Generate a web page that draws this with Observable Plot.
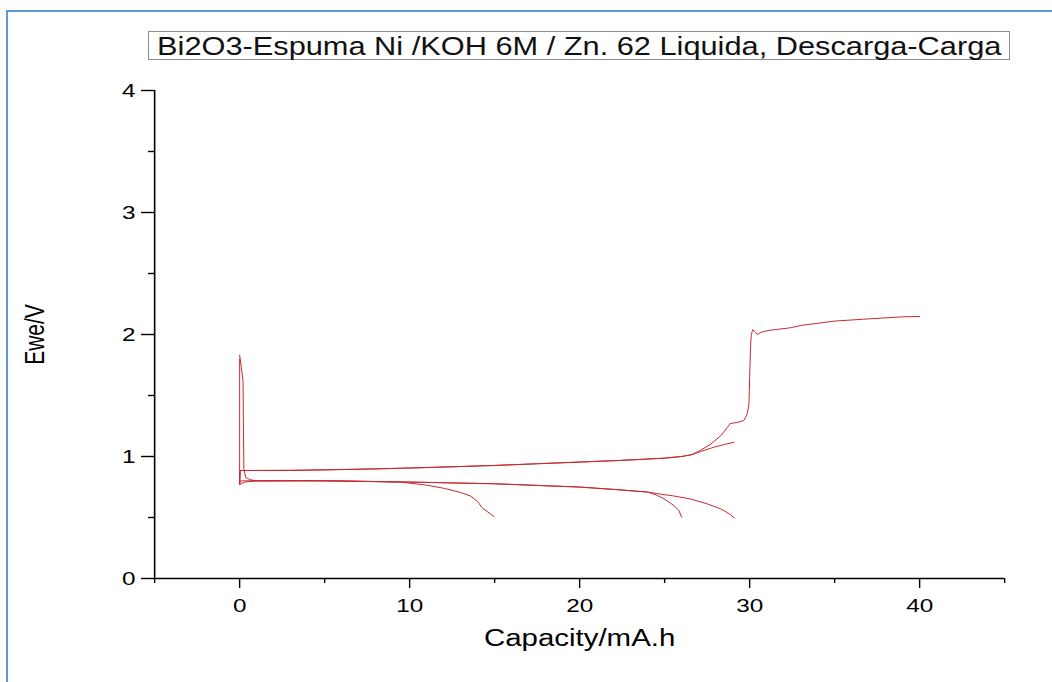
<!DOCTYPE html>
<html><head><meta charset="utf-8">
<script src="https://cdn.jsdelivr.net/npm/d3@7"></script>
<script src="https://cdn.jsdelivr.net/npm/@observablehq/plot@0.6"></script>
<style>
body{margin:0;background:#fff;width:1052px;height:682px;overflow:hidden;position:relative;font-family:"Liberation Sans",Arial,sans-serif;}
#bl{position:absolute;left:6px;top:10px;width:2px;height:672px;background:#5b9bd5}
#bt{position:absolute;left:6px;top:10px;width:1046px;height:2px;background:#5b9bd5}
#title{position:absolute;left:148px;top:31px;width:860px;height:27px;border:1px solid #8c8c8c;text-align:center;white-space:nowrap;color:#111}
#title span{display:inline-block;font-size:25px;line-height:28px;transform:scaleX(1.23);transform-origin:center}
#chart{position:absolute;left:0;top:70px}
</style></head>
<body>
<div id="bl"></div><div id="bt"></div>
<div id="title"><span>Bi2O3-Espuma Ni /KOH 6M / Zn. 62 Liquida, Descarga-Carga</span></div>
<div id="chart"></div>
<script>
// Discharge 1
const d1Cap = [0, 0.1, 0.2, 0.22, 0.25, 0.35, 0.6, 1, 3.6, 6, 9.5, 11, 12, 13, 13.6, 14.0, 14.3, 14.6, 14.96];
const d1Ewe = [1.83, 1.73, 1.62, 1.3, 0.9, 0.83, 0.81, 0.80, 0.803, 0.80, 0.79, 0.765, 0.74, 0.705, 0.675, 0.63, 0.574, 0.545, 0.508];
// Discharge 2
const d2Cap = [0, 0, 0.3, 1, 5, 10, 15, 20, 22, 24, 24.5, 24.96, 25.55, 25.84, 26.0];
const d2Ewe = [1.80, 0.77, 0.79, 0.80, 0.80, 0.79, 0.776, 0.749, 0.73, 0.708, 0.685, 0.653, 0.598, 0.557, 0.503];
// Discharge 3
const d3Cap = [0, 0.05, 1, 5, 10, 15, 20, 22, 24, 24.6, 25.5, 26.5, 27.5, 28.3, 28.8, 29.1];
const d3Ewe = [0.78, 0.80, 0.801, 0.801, 0.791, 0.777, 0.75, 0.731, 0.709, 0.695, 0.677, 0.653, 0.612, 0.571, 0.53, 0.497];
// Charge 1
const c1Cap = [0, 0.03, 1, 3, 5, 8, 10, 12.5, 15, 17.5, 20, 22.5, 25, 26, 26.6, 27.1, 27.9, 28.5, 29.08];
const c1Ewe = [0.78, 0.885, 0.885, 0.886, 0.89, 0.898, 0.905, 0.915, 0.926, 0.94, 0.954, 0.968, 0.986, 1.0, 1.015, 1.04, 1.076, 1.098, 1.117];
// Charge 2
const c2Cap = [0, 0.03, 1, 3, 5, 8, 10, 12.5, 15, 17.5, 20, 22.5, 25, 26, 26.6, 27.1, 27.7, 28.3, 28.7, 28.85, 29.3, 29.66, 29.86, 29.96, 30.0, 30.06, 30.1, 30.18, 30.3, 30.45, 30.7, 31.2, 32.4, 33, 35, 37, 39, 40];
const c2Ewe = [0.77, 0.885, 0.886, 0.887, 0.891, 0.899, 0.906, 0.916, 0.927, 0.941, 0.955, 0.969, 0.987, 1.0, 1.015, 1.05, 1.10, 1.17, 1.24, 1.27, 1.28, 1.295, 1.35, 1.43, 1.65, 1.92, 2.0, 2.04, 2.025, 2.0, 2.02, 2.035, 2.055, 2.074, 2.11, 2.128, 2.145, 2.148];

const xMajor = [0, 10, 20, 30, 40];
const xMinor = [-5, 5, 15, 25, 35, 45];
const yMajor = [0, 1, 2, 3, 4];
const yMinor = [0.5, 1.5, 2.5, 3.5];

const seriesList = [["d1", d1Cap, d1Ewe], ["d2", d2Cap, d2Ewe], ["d3", d3Cap, d3Ewe], ["c1", c1Cap, c1Ewe], ["c2", c2Cap, c2Ewe]];
const rows = [];
for (const [name, xs, ys] of seriesList) xs.forEach((x, i) => rows.push({series: name, cap: x, ewe: ys[i]}));

const S = 1052 / 822;
const W = 822, H = 612;
const svg = Plot.plot({
  width: W, height: H,
  marginLeft: 154 / S, marginRight: 48 / S, marginTop: 20, marginBottom: 104,
  x: {domain: [-5, 45]},
  y: {domain: [0, 4]},
  style: {fontFamily: "'Liberation Sans', Arial, sans-serif", color: "#000", background: "transparent"},
  marks: [
    Plot.line(rows, {x: "cap", y: "ewe", z: "series", stroke: "#c62a30", strokeWidth: 1}),
    Plot.ruleX([-5], {strokeWidth: 1.6}),
    Plot.ruleY([0], {strokeWidth: 1.6}),
    Plot.axisX({ticks: xMajor, tickSize: 10, tickPadding: 10, fontSize: 19, label: null, tickFormat: d => String(d), strokeWidth: 1.4}),
    Plot.axisX({ticks: xMinor, tickSize: 5, label: null, tickFormat: () => "", strokeWidth: 1.4}),
    Plot.axisY({ticks: yMajor, tickSize: 13 / S, tickPadding: 6 / S, fontSize: 19, label: null, tickFormat: d => String(d), strokeWidth: 1.4}),
    Plot.axisY({ticks: yMinor, tickSize: 6 / S, label: null, tickFormat: () => "", strokeWidth: 1.4}),
    Plot.text(["Ewe/V"], {text: d => d, frameAnchor: "left", textAnchor: "middle", dx: -(154 - 35) / S, rotate: -90, fontSize: 21}),
    Plot.text(["Capacity/mA.h"], {text: d => d, frameAnchor: "bottom", textAnchor: "middle", dy: 67, fontSize: 23})
  ]
});
svg.querySelectorAll("path,line").forEach(el => el.setAttribute("vector-effect", "non-scaling-stroke"));
svg.setAttribute("width", 1052);
svg.setAttribute("height", H);
svg.setAttribute("preserveAspectRatio", "none");
svg.style.width = "1052px";
svg.style.height = H + "px";
svg.style.maxWidth = "none";
document.getElementById("chart").appendChild(svg);
</script>
</body></html>
